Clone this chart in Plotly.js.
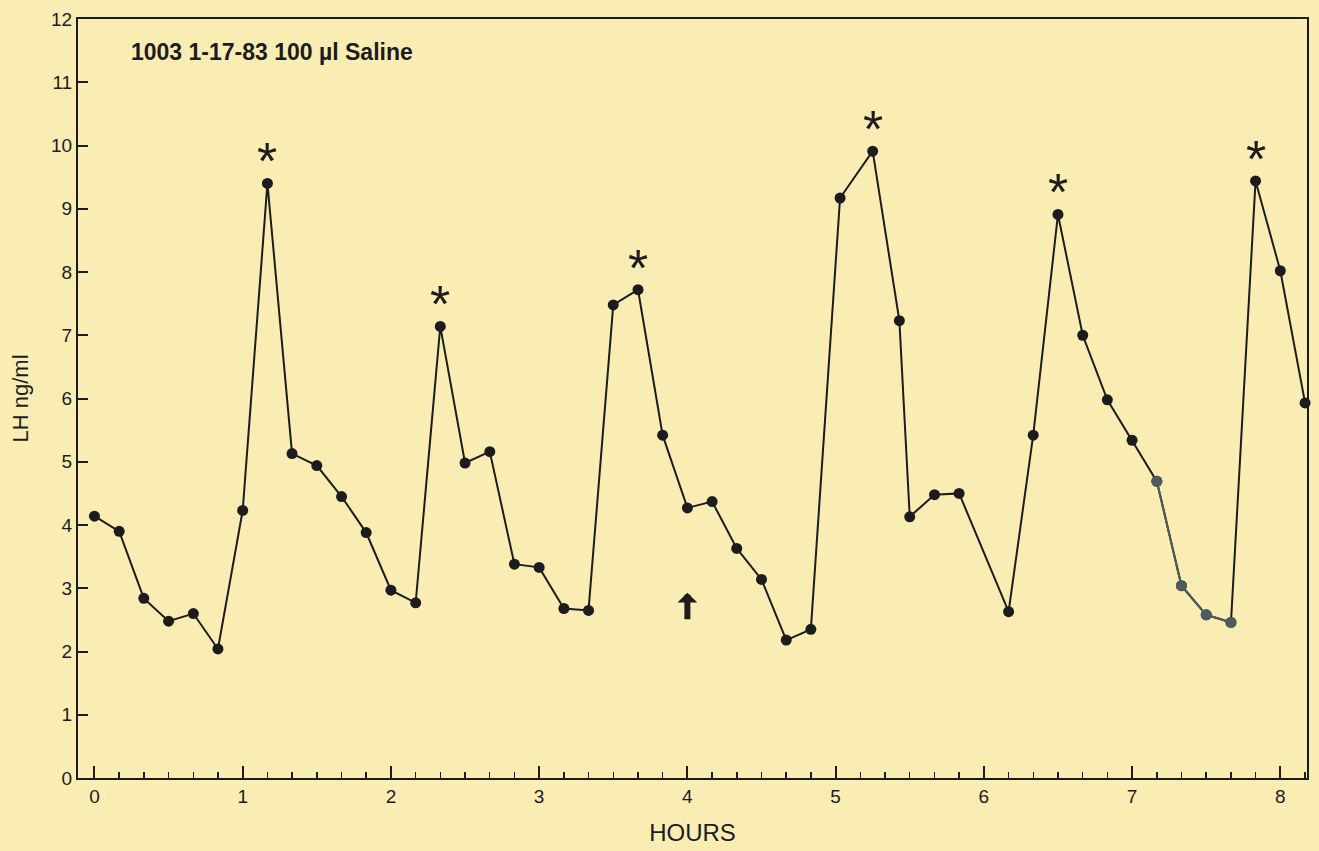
<!DOCTYPE html>
<html>
<head>
<meta charset="utf-8">
<script src="https://cdn.plot.ly/plotly-3.0.1.min.js"></script>
<style>
  html, body { margin: 0; padding: 0; background: #faedb4; }
  #chart { width: 1319px; height: 851px; }
</style>
</head>
<body>
<div id="chart"></div>
<script>
// Sampling times (hours) and LH concentrations (ng/ml)
const hours = [0, 0.167, 0.333, 0.5, 0.667, 0.833, 1.0, 1.167, 1.333, 1.5, 1.667, 1.833,
  2.0, 2.167, 2.333, 2.5, 2.667, 2.833, 3.0, 3.167, 3.333, 3.5, 3.667, 3.833,
  4.0, 4.167, 4.333, 4.5, 4.667, 4.833, 5.03, 5.25, 5.43, 5.5, 5.667, 5.833,
  6.167, 6.333, 6.5, 6.667, 6.833, 7.0, 7.167, 7.333, 7.5, 7.667, 7.833, 8.0, 8.167];
const lh = [4.14, 3.9, 2.84, 2.48, 2.6, 2.04, 4.23, 9.4, 5.13, 4.94, 4.45, 3.88,
  2.97, 2.77, 7.14, 4.98, 5.16, 3.38, 3.33, 2.68, 2.65, 7.48, 7.72, 5.42,
  4.27, 4.37, 3.63, 3.14, 2.18, 2.35, 9.17, 9.91, 7.23, 4.13, 4.48, 4.5,
  2.63, 5.42, 8.91, 7.0, 5.98, 5.34, 4.69, 3.04, 2.58, 2.46, 9.44, 8.02, 5.93];
// Pulses marked with an asterisk
const pulseHours = [1.167, 2.333, 3.667, 5.25, 6.5, 7.833];
// Saline injection time (arrow)
const injectionHour = [4.0];
const injectionLevel = [2.93];
// Lighter-printed stretch of the curve
const greyHours = [7.167, 7.333, 7.5, 7.667];

const xTicks = [0, 1, 2, 3, 4, 5, 6, 7, 8];
const yTicks = [0, 1, 2, 3, 4, 5, 6, 7, 8, 9, 10, 11, 12];
const titleText = '1003 1-17-83 100 µl Saline';

const ink = '#1c1c1c';
const bg = '#faedb4';
const font = 'Liberation Sans, Arial, Helvetica, sans-serif';

const greyY = greyHours.map(h => lh[hours.indexOf(h)]);

const traces = [
  {
    x: hours, y: lh, type: 'scatter', mode: 'lines+markers',
    line: { color: ink, width: 2 },
    marker: { color: ink, size: 11 },
    cliponaxis: false, hoverinfo: 'x+y', showlegend: false
  },
  {
    x: greyHours, y: greyY, type: 'scatter', mode: 'lines+markers',
    line: { color: '#4e5a5e', width: 2 },
    marker: { color: '#4e5a5e', size: 11 },
    cliponaxis: false, hoverinfo: 'x+y', showlegend: false
  }
];

const annotations = pulseHours.map(h => ({
  x: h, y: lh[hours.indexOf(h)], xref: 'x', yref: 'y',
  text: '*', showarrow: false, yshift: 22,
  font: { family: font, size: 52, color: ink }
}));

injectionHour.forEach((h, i) => {
  annotations.push({
    x: h, y: injectionLevel[i], xref: 'x', yref: 'y',
    text: '', showarrow: true, ax: 0, ay: 28, axref: 'pixel', ayref: 'pixel',
    arrowhead: 1, arrowsize: 0.55, arrowwidth: 6, arrowcolor: ink, standoff: 0
  });
});

const layout = {
  width: 1319, height: 851,
  margin: { l: 78, r: 12, t: 19, b: 73 },
  paper_bgcolor: bg, plot_bgcolor: bg,
  font: { family: font, color: ink },
  title: {
    text: '<b>' + titleText + '</b>',
    x: 131 / 1319, xref: 'container', xanchor: 'left',
    y: 1 - 52 / 851, yref: 'container', yanchor: 'middle',
    font: { family: font, size: 23, color: ink }
  },
  xaxis: {
    range: [-0.111, 8.18], tickvals: xTicks, ticktext: xTicks.map(String),
    ticks: 'inside', ticklen: 12, tickwidth: 2, tickcolor: ink,
    minor: { tick0: 0, dtick: 1 / 6, ticks: 'inside', ticklen: 6, tickwidth: 1.5, tickcolor: ink },
    showline: true, linewidth: 2, linecolor: ink, mirror: true,
    showgrid: false, zeroline: false,
    tickfont: { family: font, size: 19, color: ink },
    title: { text: 'HOURS', font: { family: font, size: 24, color: ink }, standoff: 18 },
    automargin: false
  },
  yaxis: {
    range: [0, 12], tickvals: yTicks, ticktext: yTicks.map(String),
    ticks: 'inside', ticklen: 10, tickwidth: 2, tickcolor: ink,
    showline: true, linewidth: 2, linecolor: ink, mirror: true,
    showgrid: false, zeroline: false,
    tickfont: { family: font, size: 19, color: ink },
    title: { text: 'LH ng/ml', font: { family: font, size: 22, color: ink }, standoff: 16 },
    automargin: false
  },
  annotations: annotations,
  showlegend: false
};

Plotly.newPlot('chart', traces, layout, { displayModeBar: false, staticPlot: true });
</script>
</body>
</html>
